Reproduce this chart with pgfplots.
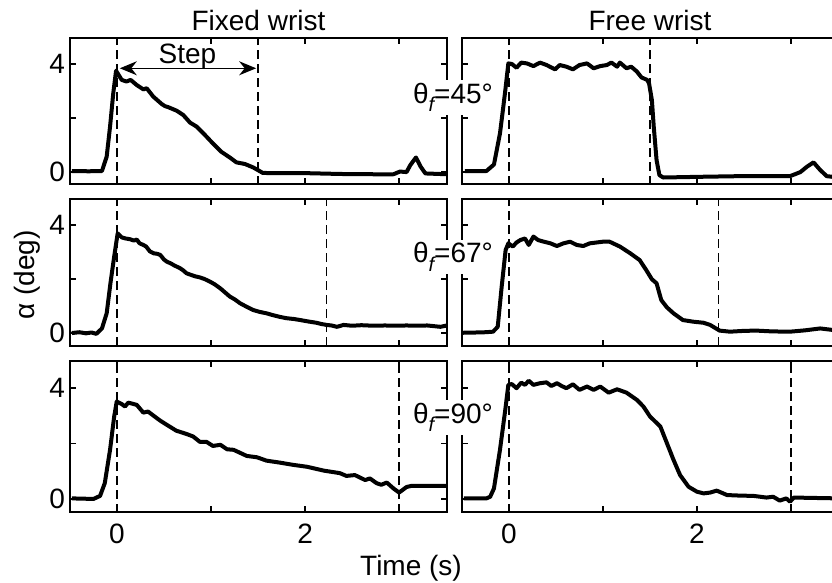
\documentclass[border=0pt]{standalone}
\usepackage{fontspec}
\setmainfont{Liberation Sans}
\usepackage{pgfplots}
\pgfplotsset{compat=1.18}
\usetikzlibrary{arrows.meta}
\newcommand\lbl{\fontsize{14}{16}\selectfont}
\pgfplotsset{
  every axis title/.style={at={(0.5,1)},anchor=base,yshift=3.5pt},
  panel/.style={scale only axis, width=188.5pt, xmin=-0.5, xmax=3.51,
    anchor=north west,
    xtick={0,1,2,3}, ytick={0,2,4}, xticklabels={}, yticklabels={},
    tick align=inside, major tick length=2.8pt,
    axis line style={line width=0.7pt},
    every tick/.style={black, line width=0.6pt},
    tick label style={font=\lbl},
    /pgf/number format/assume math mode=true,
    title style={font=\lbl},
    xticklabel style={yshift=-2.5pt},
    yticklabel style={xshift=1pt},
  },
  bottomrow/.style={xticklabels={0,,2,}},
  leftcol/.style={yticklabels={0,,4}},
  sig/.style={black, line width=2pt, line join=round},
  stepline/.style={black, line width=0.75pt, dash pattern=on 4.5pt off 2.5pt},
}
\begin{document}
\begin{tikzpicture}
% ---------- row 1 ----------
\begin{axis}[panel, leftcol, at={(35pt,-19pt)}, height=73pt, ymin=-0.44, ymax=4.96, title={Fixed wrist}]
\addplot[stepline] coordinates {(0,-1) (0,6)};
\addplot[stepline] coordinates {(1.5,-1) (1.5,6)};
\addplot[sig] table {
-0.48 0.04
-0.30 0.03
-0.16 0.04
-0.11 0.57
-0.074 1.68
-0.04 2.91
-0.01 3.75
0.05 3.41
0.10 3.35
0.145 3.41
0.21 3.22
0.28 3.06
0.316 3.10
0.386 2.79
0.475 2.52
0.51 2.44
0.546 2.40
0.635 2.27
0.705 2.11
0.777 1.83
0.848 1.68
0.936 1.37
1.02 1.06
1.11 0.75
1.20 0.54
1.27 0.36
1.36 0.30
1.45 0.17
1.55 -0.03
1.66 -0.04
2.02 -0.04
2.38 -0.07
2.73 -0.08
2.94 -0.08
3.01 0.02
3.08 0.00
3.12 0.26
3.18 0.54
3.23 0.20
3.28 -0.05
3.51 -0.08
};
\draw[{Stealth[length=8.5pt,width=7pt]}-{Stealth[length=8.5pt,width=7pt]}, line width=0.7pt] (axis cs:0.03,3.84) -- (axis cs:1.48,3.84);
\node[font=\lbl, anchor=base, inner sep=0pt] at (axis cs:0.75,4.03) {Step};
\end{axis}
\begin{axis}[panel, at={(231pt,-19pt)}, width=188pt, xmax=3.5, height=73pt, ymin=-0.44, ymax=4.96, title={Free wrist}]
\addplot[stepline] coordinates {(0,-1) (0,6)};
\addplot[stepline] coordinates {(1.5,-1) (1.5,6)};
\addplot[sig] table {
-0.47 0.04
-0.24 0.04
-0.16 0.28
-0.096 1.43
-0.043 2.91
-0.007 4.02
0.03 4.00
0.08 3.86
0.13 4.05
0.19 4.02
0.26 3.92
0.33 4.05
0.40 3.96
0.49 3.80
0.54 3.96
0.61 3.90
0.68 3.80
0.75 3.96
0.83 4.02
0.90 3.84
0.97 3.92
1.04 3.96
1.09 4.05
1.15 3.90
1.18 4.05
1.25 3.84
1.30 3.90
1.36 3.72
1.41 3.50
1.47 3.41
1.49 3.28
1.52 2.67
1.54 1.68
1.57 0.44
1.60 -0.11
1.64 -0.20
2.10 -0.17
2.46 -0.15
2.99 -0.15
3.10 0.00
3.17 0.20
3.24 0.36
3.31 0.08
3.38 -0.15
3.50 -0.20
};
\end{axis}
% ---------- row 2 ----------
\begin{axis}[panel, leftcol, at={(35pt,-99.5pt)}, height=73.5pt, ymin=-0.48, ymax=4.96]
\addplot[stepline] coordinates {(0,-1) (0,6)};
\addplot[stepline] coordinates {(2.23,-1) (2.23,6)};
\addplot[sig] table {
-0.48 0.00
-0.40 0.03
-0.33 -0.01
-0.27 0.02
-0.22 -0.03
-0.16 0.17
-0.11 0.73
-0.07 1.84
-0.03 2.83
0.007 3.69
0.05 3.54
0.09 3.50
0.14 3.47
0.18 3.42
0.21 3.46
0.24 3.32
0.28 3.26
0.31 3.20
0.35 3.02
0.39 2.95
0.43 2.93
0.46 2.89
0.50 2.72
0.53 2.64
0.57 2.58
0.61 2.50
0.67 2.40
0.70 2.33
0.74 2.21
0.78 2.16
0.83 2.10
0.88 2.06
0.93 2.00
0.99 1.90
1.04 1.80
1.10 1.65
1.15 1.50
1.20 1.35
1.25 1.25
1.31 1.10
1.38 0.97
1.45 0.85
1.52 0.78
1.59 0.73
1.66 0.66
1.73 0.60
1.80 0.55
1.88 0.52
1.95 0.48
2.03 0.43
2.12 0.38
2.18 0.33
2.23 0.30
2.28 0.28
2.34 0.23
2.41 0.30
2.50 0.27
2.60 0.29
2.73 0.27
2.85 0.28
2.95 0.27
3.08 0.28
3.20 0.27
3.30 0.28
3.44 0.23
3.51 0.28
};
\end{axis}
\begin{axis}[panel, at={(231pt,-99.5pt)}, width=188pt, xmax=3.5, height=73.5pt, ymin=-0.48, ymax=4.96]
\addplot[stepline] coordinates {(0,-1) (0,6)};
\addplot[stepline] coordinates {(2.23,-1) (2.23,6)};
\addplot[sig] table {
-0.49 0.01
-0.35 0.02
-0.25 0.03
-0.17 0.05
-0.12 0.23
-0.078 1.71
-0.036 3.07
-0.007 3.32
0.04 3.20
0.08 3.35
0.12 3.44
0.17 3.50
0.21 3.26
0.26 3.57
0.31 3.44
0.37 3.38
0.44 3.32
0.51 3.22
0.58 3.32
0.65 3.38
0.72 3.26
0.79 3.22
0.86 3.32
0.93 3.35
1.00 3.38
1.07 3.38
1.18 3.20
1.29 2.95
1.39 2.70
1.46 2.33
1.52 1.99
1.57 1.84
1.62 1.22
1.68 0.95
1.75 0.73
1.85 0.48
1.96 0.42
2.07 0.38
2.14 0.30
2.24 0.09
2.35 0.05
2.50 0.08
2.63 0.09
2.80 0.06
2.99 0.05
3.15 0.10
3.31 0.17
3.50 0.09
};
\end{axis}
% ---------- row 3 ----------
\begin{axis}[panel, leftcol, bottomrow, at={(35pt,-180.5pt)}, height=75.5pt, ymin=-0.47, ymax=4.97]
\addplot[stepline] coordinates {(0,-1) (0,6)};
\addplot[stepline] coordinates {(3.0,-1) (3.0,6)};
\addplot[sig] table {
-0.48 0.02
-0.25 0.00
-0.18 0.11
-0.13 0.57
-0.074 1.77
-0.03 2.97
-0.003 3.51
0.05 3.42
0.085 3.33
0.12 3.47
0.21 3.39
0.28 3.11
0.33 3.15
0.40 2.97
0.46 2.82
0.53 2.67
0.63 2.46
0.74 2.34
0.81 2.25
0.88 2.06
0.95 2.06
1.02 1.91
1.10 1.95
1.17 1.79
1.24 1.77
1.38 1.55
1.49 1.50
1.59 1.38
1.73 1.31
1.87 1.23
2.02 1.16
2.20 1.02
2.37 0.93
2.44 0.83
2.53 0.86
2.64 0.68
2.69 0.74
2.76 0.57
2.81 0.51
2.87 0.59
2.94 0.38
3.00 0.23
3.08 0.43
3.13 0.47
3.51 0.47
};
\end{axis}
\begin{axis}[panel, bottomrow, at={(231pt,-180.5pt)}, width=188pt, xmax=3.5, height=75.5pt, ymin=-0.47, ymax=4.97]
\addplot[stepline] coordinates {(0,-1) (0,6)};
\addplot[stepline] coordinates {(3.0,-1) (3.0,6)};
\addplot[sig] table {
-0.48 0.02
-0.24 0.02
-0.20 0.08
-0.16 0.38
-0.096 1.77
-0.04 3.20
-0.007 4.11
0.03 4.14
0.08 3.99
0.13 4.19
0.17 4.11
0.21 4.26
0.26 4.11
0.33 4.17
0.40 4.20
0.45 4.07
0.51 4.17
0.56 4.07
0.61 3.99
0.68 4.13
0.75 3.93
0.83 4.05
0.90 3.93
0.97 4.05
1.06 3.83
1.15 3.95
1.25 3.83
1.36 3.57
1.43 3.33
1.50 2.97
1.61 2.61
1.68 2.01
1.75 1.41
1.82 0.86
1.91 0.44
2.00 0.26
2.07 0.20
2.14 0.23
2.21 0.30
2.32 0.14
2.46 0.12
2.60 0.11
2.74 0.05
2.81 0.08
2.88 -0.06
2.95 0.02
2.99 -0.10
3.03 0.05
3.50 0.02
};
\end{axis}
% ---------- labels ----------
\node[font=\lbl, fill=white, inner sep=1.5pt, anchor=base] at (226.5pt,-51.7pt) {θ\raisebox{-0.55ex}{\fontsize{10}{10}\selectfont\itshape f}=45°};
\node[font=\lbl, fill=white, inner sep=1.5pt, anchor=base] at (226.5pt,-131.5pt) {θ\raisebox{-0.55ex}{\fontsize{10}{10}\selectfont\itshape f}=67°};
\node[font=\lbl, fill=white, inner sep=1.5pt, anchor=base] at (226.5pt,-211.7pt) {θ\raisebox{-0.55ex}{\fontsize{10}{10}\selectfont\itshape f}=90°};
\node[font=\lbl, rotate=90, anchor=center] at (13.5pt,-137.5pt) {α (deg)};
\node[font=\lbl, anchor=base] at (205.5pt,-287.5pt) {Time (s)};
\pgfresetboundingbox
\path[use as bounding box] (0,0) rectangle (416pt,-291.5pt);
\end{tikzpicture}
\end{document}
